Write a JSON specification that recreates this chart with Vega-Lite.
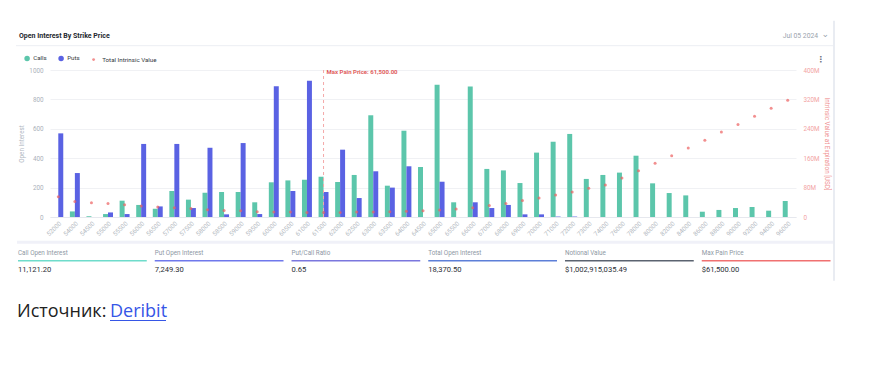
{
  "$schema": "https://vega.github.io/schema/vega-lite/v6.json",
  "padding": {"left": 15, "top": 19, "right": 5, "bottom": 5},
  "background": "white",
  "config": {
    "font": "Roboto",
    "view": {"stroke": null},
    "axis": {"labelFont": "Roboto", "titleFont": "Roboto"},
    "legend": {"labelFont": "Roboto"},
    "text": {"font": "Roboto"}
  },
  "datasets": {
    "strikes": [
      {"strike": "52000", "Calls": 0, "Puts": 569, "tiv": 55},
      {"strike": "54000", "Calls": 38, "Puts": 299, "tiv": 42},
      {"strike": "54500", "Calls": 5, "Puts": 0, "tiv": 39},
      {"strike": "55000", "Calls": 20, "Puts": 31, "tiv": 37},
      {"strike": "55500", "Calls": 111, "Puts": 20, "tiv": 33},
      {"strike": "56000", "Calls": 82, "Puts": 497, "tiv": 30},
      {"strike": "56500", "Calls": 56, "Puts": 72, "tiv": 27},
      {"strike": "57000", "Calls": 177, "Puts": 497, "tiv": 25},
      {"strike": "57500", "Calls": 118, "Puts": 61, "tiv": 23},
      {"strike": "58000", "Calls": 165, "Puts": 471, "tiv": 20},
      {"strike": "58500", "Calls": 170, "Puts": 18, "tiv": 18},
      {"strike": "59000", "Calls": 170, "Puts": 503, "tiv": 17},
      {"strike": "59500", "Calls": 100, "Puts": 20, "tiv": 14.5},
      {"strike": "60000", "Calls": 236, "Puts": 889, "tiv": 13.6},
      {"strike": "60500", "Calls": 249, "Puts": 177, "tiv": 13.6},
      {"strike": "61000", "Calls": 254, "Puts": 927, "tiv": 12.5},
      {"strike": "61500", "Calls": 274, "Puts": 170, "tiv": 12.5},
      {"strike": "62000", "Calls": 238, "Puts": 458, "tiv": 12.5},
      {"strike": "62500", "Calls": 286, "Puts": 129, "tiv": 13.6},
      {"strike": "63000", "Calls": 692, "Puts": 311, "tiv": 13.6},
      {"strike": "63500", "Calls": 213, "Puts": 200, "tiv": 14.5},
      {"strike": "64000", "Calls": 587, "Puts": 345, "tiv": 15.4},
      {"strike": "64500", "Calls": 340, "Puts": 0, "tiv": 17},
      {"strike": "65000", "Calls": 900, "Puts": 240, "tiv": 19},
      {"strike": "65500", "Calls": 100, "Puts": 0, "tiv": 22},
      {"strike": "66000", "Calls": 887, "Puts": 100, "tiv": 25},
      {"strike": "67000", "Calls": 327, "Puts": 61, "tiv": 31},
      {"strike": "68000", "Calls": 317, "Puts": 82, "tiv": 37},
      {"strike": "69000", "Calls": 231, "Puts": 18, "tiv": 45},
      {"strike": "70000", "Calls": 438, "Puts": 18, "tiv": 52},
      {"strike": "71000", "Calls": 512, "Puts": 3, "tiv": 60},
      {"strike": "72000", "Calls": 565, "Puts": 3, "tiv": 68},
      {"strike": "73000", "Calls": 259, "Puts": 0, "tiv": 78},
      {"strike": "74000", "Calls": 286, "Puts": 0, "tiv": 87},
      {"strike": "76000", "Calls": 302, "Puts": 0, "tiv": 106},
      {"strike": "78000", "Calls": 417, "Puts": 0, "tiv": 126},
      {"strike": "80000", "Calls": 229, "Puts": 0, "tiv": 146},
      {"strike": "82000", "Calls": 163, "Puts": 0, "tiv": 167},
      {"strike": "84000", "Calls": 147, "Puts": 0, "tiv": 188},
      {"strike": "86000", "Calls": 36, "Puts": 0, "tiv": 209},
      {"strike": "88000", "Calls": 48, "Puts": 0, "tiv": 231},
      {"strike": "90000", "Calls": 61, "Puts": 0, "tiv": 252},
      {"strike": "92000", "Calls": 68, "Puts": 0, "tiv": 274},
      {"strike": "94000", "Calls": 43, "Puts": 0, "tiv": 296},
      {"strike": "96000", "Calls": 109, "Puts": 0, "tiv": 318}
    ],
    "stats": [
      {"name": "Call Open Interest", "value": "11,121.20"},
      {"name": "Put Open Interest", "value": "7,249.30"},
      {"name": "Put/Call Ratio", "value": "0.65"},
      {"name": "Total Open Interest", "value": "18,370.50"},
      {"name": "Notional Value", "value": "$1,002,915,035.49"},
      {"name": "Max Pain Price", "value": "$61,500.00"}
    ],
    "maxpain": [
      {"strike": "61500", "label": "Max Pain Price: 61,500.00"}
    ],
    "source": [
      {"w": "Источник:"},
      {"w": "Deribit"}
    ]
  },
  "spacing": 30,
  "bounds": "flush",
  "resolve": {"scale": {"x": "independent", "y": "independent", "color": "independent"}},
  "vconcat": [
    {
      "width": 746,
      "height": 147,
      "layer": [
        {
          "data": {"name": "strikes"},
          "transform": [{"fold": ["Calls", "Puts"], "as": ["type", "oi"]}],
          "mark": {"type": "bar"},
          "encoding": {
            "x": {
              "field": "strike", "type": "nominal",
              "scale": {"paddingInner": 0.4, "paddingOuter": 0.2},
              "axis": {"title": null, "labelAngle": -45, "labelFontSize": 6.3, "labelColor": "#b3b9c1", "ticks": false, "domainColor": "#e6e8ee", "labelPadding": 3}
            },
            "xOffset": {"field": "type", "type": "nominal", "scale": {"domain": ["Calls", "Puts"], "paddingInner": 0, "paddingOuter": 0}},
            "y": {
              "field": "oi", "type": "quantitative",
              "scale": {"domain": [0, 1000], "nice": false},
              "axis": {"orient": "left", "values": [0, 200, 400, 600, 800, 1000], "format": "d", "grid": true, "gridColor": "#f0f1f4", "domain": false, "ticks": false, "labelFontSize": 6.3, "labelColor": "#aab1ba", "labelPadding": 7, "title": "Open Interest", "titleFontSize": 6.3, "titleColor": "#b0b7bf", "titleFontWeight": "normal", "titlePadding": 4}
            },
            "color": {
              "field": "type", "type": "nominal",
              "scale": {"domain": ["Calls", "Puts"], "range": ["#5cc6ab", "#5a62e3"]},
              "legend": {"title": null, "orient": "none", "legendX": -26, "legendY": -15, "direction": "horizontal", "symbolType": "circle", "symbolSize": 30, "labelFontSize": 6.2, "labelColor": "#333a42", "labelOffset": 3, "columnPadding": 11, "padding": 0, "symbolStrokeWidth": 0}
            }
          }
        },
        {
          "data": {"name": "strikes"},
          "mark": {"type": "point", "filled": true, "size": 9, "shape": "circle"},
          "encoding": {
            "x": {"field": "strike", "type": "nominal"},
            "y": {
              "field": "tiv", "type": "quantitative",
              "scale": {"domain": [0, 400], "nice": false},
              "axis": {"orient": "right", "values": [0, 80, 160, 240, 320, 400], "labelExpr": "datum.value == 0 ? '0' : datum.value + 'M'", "grid": false, "domain": false, "ticks": false, "labelFontSize": 6.3, "labelColor": "#f2a3a3", "labelPadding": 7, "title": "Intrinsic Value at Expiration [USD]", "titleFontSize": 6.3, "titleColor": "#ef8f8f", "titleFontWeight": "normal", "titlePadding": 4}
            },
            "color": {
              "datum": "Total Intrinsic Value",
              "scale": {"range": ["#ec5f5f"]},
              "legend": {"title": null, "orient": "none", "legendX": 40.5, "legendY": -13.5, "symbolType": "circle", "symbolSize": 8, "labelFontSize": 6.2, "labelColor": "#333a42", "labelOffset": 5.5, "padding": 0}
            }
          }
        },
        {
          "data": {"name": "maxpain"},
          "mark": {"type": "rule", "strokeDash": [3, 3], "color": "#f4a9a9", "strokeWidth": 1},
          "encoding": {"x": {"field": "strike", "type": "nominal"}}
        },
        {
          "data": {"name": "maxpain"},
          "mark": {"type": "text", "align": "left", "baseline": "middle", "dx": 3, "fontSize": 6, "fontWeight": "bold", "color": "#e05c5c"},
          "encoding": {"x": {"field": "strike", "type": "nominal"}, "y": {"value": 1.7}, "text": {"field": "label"}}
        },
        {
          "data": {"values": [{"t": "Open Interest By Strike Price"}]},
          "mark": {"type": "text", "align": "left", "baseline": "middle", "fontSize": 7, "fontWeight": "bold", "color": "#23272e"},
          "encoding": {"x": {"value": -31}, "y": {"value": -34.3}, "text": {"field": "t"}}
        },
        {
          "data": {"values": [{"t": "Jul 05 2024"}]},
          "mark": {"type": "text", "align": "left", "baseline": "middle", "fontSize": 6.8, "color": "#9aa3ad"},
          "encoding": {"x": {"value": 732.7}, "y": {"value": -34.3}, "text": {"field": "t"}}
        },
        {
          "data": {"values": [{"t": "⌄"}]},
          "mark": {"type": "text", "align": "left", "baseline": "middle", "fontSize": 9, "color": "#9aa3ad", "font": "DejaVu Sans"},
          "encoding": {"x": {"value": 771.5}, "y": {"value": -36}, "text": {"field": "t"}}
        },
        {
          "data": {"values": [{"t": "⋮"}]},
          "mark": {"type": "text", "align": "center", "baseline": "middle", "fontSize": 8, "fontWeight": "bold", "color": "#6b7280", "font": "DejaVu Sans"},
          "encoding": {"x": {"value": 771}, "y": {"value": -10}, "text": {"field": "t"}}
        },
        {
          "data": {"values": [{}]},
          "mark": {"type": "rule", "color": "#eceef3", "strokeWidth": 1},
          "encoding": {"x": {"value": -34}, "x2": {"value": 783}, "y": {"value": -24.3}}
        },
        {
          "data": {"values": [{}]},
          "mark": {"type": "rule", "color": "#f0f1f8", "strokeWidth": 3},
          "encoding": {"x": {"value": -33}, "x2": {"value": 783}, "y": {"value": 172.2}}
        },
        {
          "data": {"values": [{}]},
          "mark": {"type": "rule", "color": "#e2e6ee", "strokeWidth": 1.5},
          "encoding": {"x": {"value": 784}, "y": {"value": -49.3}, "y2": {"value": 210.7}}
        }
      ],
      "resolve": {"scale": {"y": "independent", "color": "independent"}}
    },
    {
      "width": 746,
      "height": 30,
      "data": {"name": "stats"},
      "encoding": {
        "x": {"field": "name", "type": "nominal", "sort": null, "bandPosition": 0, "scale": {"range": [-32, 780.5], "paddingInner": 0.0584, "paddingOuter": 0}, "axis": null}
      },
      "layer": [
        {
          "mark": {"type": "text", "align": "left", "baseline": "middle", "fontSize": 6.3, "color": "#8e98a4"},
          "encoding": {"y": {"value": 6.4}, "text": {"field": "name"}}
        },
        {
          "mark": {"type": "bar"},
          "encoding": {
            "x": {"field": "name", "type": "nominal", "sort": null},
            "y": {"value": 13}, "y2": {"value": 14.5},
            "color": {"field": "name", "type": "nominal", "scale": {"domain": ["Call Open Interest", "Put Open Interest", "Put/Call Ratio", "Total Open Interest", "Notional Value", "Max Pain Price"], "range": ["#6fdccb", "#6f78ec", "#7b77de", "#5d7fd8", "#5b6370", "#f07171"]}, "legend": null}
          }
        },
        {
          "mark": {"type": "text", "align": "left", "baseline": "middle", "fontSize": 7.6, "color": "#2b2f36"},
          "encoding": {"y": {"value": 23}, "text": {"field": "value"}}
        }
      ]
    },
    {
      "width": 746,
      "height": 10,
      "data": {"name": "source"},
      "layer": [
        {
          "mark": {"type": "text", "align": "left", "baseline": "middle", "fontSize": 18, "font": "Open Sans"},
          "encoding": {
            "x": {"field": "w", "type": "nominal", "sort": null, "scale": {"range": [-79.5, 106.5], "paddingInner": 0, "paddingOuter": 0}, "axis": null},
            "y": {"value": 4.7},
            "text": {"field": "w"},
            "color": {"field": "w", "type": "nominal", "scale": {"domain": ["Источник:", "Deribit"], "range": ["#212121", "#3656e6"]}, "legend": null}
          }
        },
        {
          "mark": {"type": "rule", "color": "#3656e6", "strokeWidth": 1},
          "encoding": {"x": {"value": 60}, "x2": {"value": 116}, "y": {"value": 13.5}}
        }
      ]
    }
  ]
}
